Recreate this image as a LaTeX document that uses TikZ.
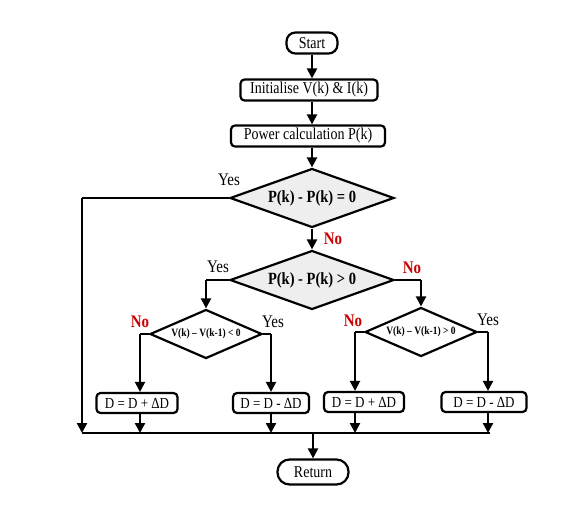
\documentclass[tikz,border=0pt]{standalone}
\usepackage{fontspec}
\setmainfont{Liberation Serif}
\usetikzlibrary{shapes.geometric,arrows.meta}
\definecolor{nored}{HTML}{CC0000}
\definecolor{dfill}{HTML}{EEEEEE}
\newcommand\tallt[1]{\scalebox{1}[1.18]{#1}}
\tikzset{
  line/.style={line width=2.2pt},
  arr/.style={line width=2.2pt,-{Triangle[length=10pt,width=10pt]}},
  term/.style={draw,line width=2.2pt,rounded corners=9pt,minimum height=21pt,inner sep=2pt,font=\fontsize{14}{16}\selectfont},
  proc/.style={draw,line width=2.2pt,rounded corners=4pt,minimum height=21pt,inner sep=2pt,font=\fontsize{14}{16}\selectfont},
  dbox/.style={draw,line width=2.2pt,rounded corners=4pt,minimum height=20pt,inner sep=2pt,font=\fontsize{13}{15}\selectfont},
  bigdec/.style={draw,line width=2.2pt,diamond,fill=dfill,inner sep=0pt,aspect=2.8,minimum width=164pt,minimum height=59pt,font=\bfseries\fontsize{14.5}{16}\selectfont},
  smalldec/.style={draw,line width=2.2pt,diamond,fill=white,inner sep=0pt,aspect=2.3,minimum width=112pt,minimum height=49pt,font=\bfseries\fontsize{9.5}{11}\selectfont},
  yes/.style={font=\fontsize{15}{17}\selectfont},
  no/.style={text=nored,font=\bfseries\fontsize{15}{17}\selectfont},
}
\begin{document}
\begin{tikzpicture}[x=1pt,y=-1pt]
\useasboundingbox (0,0) rectangle (585,504);
\node[term,minimum width=51pt] (start) at (312,43) {\tallt{Start}};
\node[proc,minimum width=137pt] (init) at (309,90) {\tallt{Initialise V(k) \& I(k)}};
\node[proc,minimum width=154pt] (pow) at (308,136) {\tallt{Power calculation P(k)}};
\node[bigdec] (d1) at (312,198) {\tallt{P(k) - P(k) = 0}};
\node[bigdec] (d2) at (312,280) {\tallt{P(k) - P(k) > 0}};
\node[smalldec] (d3) at (206,334) {\tallt{V(k) – V(k-1) < 0}};
\node[smalldec] (d4) at (421,332) {\tallt{V(k) – V(k-1) > 0}};
\node[dbox,minimum width=81pt] (b1) at (137,403) {\tallt{D = D + ΔD}};
\node[dbox,minimum width=76pt] (b2) at (271,403) {\tallt{D = D - ΔD}};
\node[dbox,minimum width=80pt] (b3) at (364,402) {\tallt{D = D + ΔD}};
\node[dbox,minimum width=85pt] (b4) at (484,402) {\tallt{D = D - ΔD}};
\node[term,minimum width=71pt,minimum height=25pt,rounded corners=12pt] (ret) at (313,472) {\tallt{Return}};
% coordinates
\coordinate (yl) at (82,198);
\coordinate (yb) at (82,433);
\coordinate (l2) at (206,280);
\coordinate (r2) at (421,280);
\coordinate (l3) at (140,334);
\coordinate (r3) at (271,334);
\coordinate (l4) at (355,332);
\coordinate (r4) at (488,332);
\coordinate (busL) at (82,433);
\coordinate (busR) at (490,433);
\coordinate (busM) at (313,433);
% connectors
\draw[arr] (start) -- (init.north -| start);
\draw[arr] (init.south -| start) -- (pow.north -| start);
\draw[arr] (pow.south -| d1) -- (d1.north);
\draw[arr] (d1.south) -- (d2.north);
\draw[line] (d1.west) -- (yl);
\draw[arr] (yl) -- (yb);
\draw[line] (d2.west) -- (l2);
\draw[arr] (l2) -- (d3.north);
\draw[line] (d2.east) -- (r2);
\draw[arr] (r2) -- (d4.north);
\draw[line] (d3.west) -- (l3);
\draw[arr] (l3) -- (l3 |- b1.north);
\draw[line] (d3.east) -- (r3);
\draw[arr] (r3) -- (b2.north);
\draw[line] (d4.west) -- (l4);
\draw[arr] (l4) -- (l4 |- b3.north);
\draw[line] (d4.east) -- (r4);
\draw[arr] (r4) -- (r4 |- b4.north);
\draw[arr] (l3 |- b1.south) -- (l3 |- busL);
\draw[arr] (b2.south) -- (b2.south |- busL);
\draw[arr] (l4 |- b3.south) -- (l4 |- busL);
\draw[arr] (r4 |- b4.south) -- (r4 |- busL);
\draw[line] (busL) -- (busR);
\draw[arr] (busM) -- (ret.north);
% labels
\node[yes] at (229,180) {\tallt{Yes}};
\node[no] at (333,239) {\tallt{No}};
\node[yes] at (218,267) {\tallt{Yes}};
\node[no] at (412,268) {\tallt{No}};
\node[no] at (140,322) {\tallt{No}};
\node[yes] at (273,322) {\tallt{Yes}};
\node[no] at (353,321) {\tallt{No}};
\node[yes] at (488,320) {\tallt{Yes}};
\end{tikzpicture}
\end{document}
